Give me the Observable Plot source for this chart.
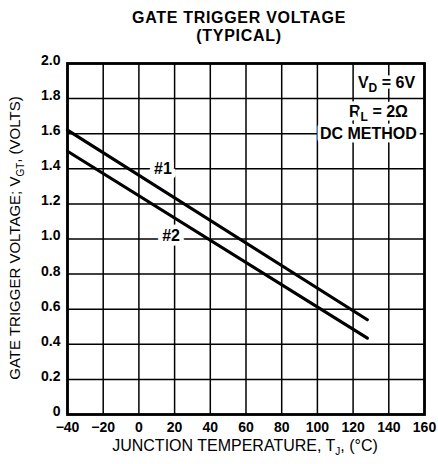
<!DOCTYPE html>
<html><head><meta charset="utf-8">
<script src="https://cdn.jsdelivr.net/npm/d3@7"></script>
<script src="https://cdn.jsdelivr.net/npm/@observablehq/plot@0.6"></script>
<style>body{margin:0;background:#fff}</style>
</head><body><div id="chart"></div>
<script>
// ---- data ----
const curve1Temp = [-40, 128];
const curve1Vgt = [1.62, 0.54];
const curve2Temp = [-40, 128];
const curve2Vgt = [1.50, 0.435];
const curveNames = ["#1", "#2"];
const curveLabelTemp = [13.5, 18];
const curveLabelVgt = [1.40, 1.015];
const xTicks = [-40, -20, 0, 20, 40, 60, 80, 100, 120, 140, 160];
const yTicks = [0, 0.2, 0.4, 0.6, 0.8, 1.0, 1.2, 1.4, 1.6, 1.8, 2.0];
const yTickLabels = ["0", "0.2", "0.4", "0.6", "0.8", "1.0", "1.2", "1.4", "1.6", "1.8", "2.0"];
const titleLines = ["GATE TRIGGER VOLTAGE", "(TYPICAL)"];
const noteTemp = [155, 151, 156];
const noteVgt = [1.892, 1.727, 1.60];

const series1 = curve1Temp.map((t, i) => ({t, v: curve1Vgt[i]}));
const series2 = curve2Temp.map((t, i) => ({t, v: curve2Vgt[i]}));
const font = "'Liberation Sans', Arial, Helvetica, sans-serif";

const plot = Plot.plot({
  width: 438, height: 464,
  marginTop: 63, marginLeft: 67, marginRight: 14, marginBottom: 50,
  style: {fontFamily: font, background: "white", color: "black", overflow: "visible"},
  x: {domain: [-40, 160]},
  y: {domain: [0, 2]},
  marks: [
    Plot.gridX(xTicks, {stroke: "black", strokeOpacity: 1, strokeWidth: 1.5}),
    Plot.gridY(yTicks, {stroke: "black", strokeOpacity: 1, strokeWidth: 1.5}),
    Plot.frame({stroke: "black", strokeWidth: 2.8}),
    Plot.line(series1, {x: "t", y: "v", stroke: "black", strokeWidth: 3.2, strokeLinecap: "round"}),
    Plot.line(series2, {x: "t", y: "v", stroke: "black", strokeWidth: 3.2, strokeLinecap: "round"}),
    Plot.text(curveNames, {x: (d, i) => curveLabelTemp[i], y: (d, i) => curveLabelVgt[i], text: d => d,
      fontSize: 16, fontWeight: "bold", fill: "black", stroke: "white", strokeWidth: 9}),
    Plot.axisX(xTicks, {tickSize: 0, tickPadding: 8, fontSize: 14, fontWeight: "bold", label: null}),
    Plot.axisY(yTicks, {tickSize: 0, tickPadding: 7, fontSize: 14, fontWeight: "bold", label: null, dy: -3,
      tickFormat: d => yTickLabels[yTicks.indexOf(d)]})
  ]
});
document.getElementById("chart").appendChild(plot);

const svg = d3.select(plot);
const xs = plot.scale("x"), ys = plot.scale("y");

// Title
titleLines.forEach((t, i) => {
  svg.append("text").attr("x", 239).attr("y", 23 + i * 18).attr("text-anchor", "middle")
    .attr("font-family", font).attr("font-size", 16).attr("letter-spacing", "0.7px")
    .attr("font-weight", "bold").attr("fill", "black").text(t);
});

function addSub(sel, main, sub, rest, subSize) {
  sel.append("tspan").text(main);
  sel.append("tspan").attr("dy", 4).attr("font-size", subSize).text(sub);
  sel.append("tspan").attr("dy", -4).text(rest);
}

// Y axis label
const yl = svg.append("text").attr("transform", "translate(20,238) rotate(-90)").attr("text-anchor", "middle")
  .attr("font-family", font).attr("font-size", 15).attr("fill", "black");
addSub(yl, "GATE TRIGGER VOLTAGE; V", "GT", ", (VOLTS)", 10);

// X axis label
const xl = svg.append("text").attr("x", 245).attr("y", 451).attr("text-anchor", "middle")
  .attr("font-family", font).attr("font-size", 16).attr("fill", "black");
addSub(xl, "JUNCTION TEMPERATURE, T", "J", ", (\u00B0C)", 10);

// Notes
const notes = [["V", "D", " = 6V"], ["R", "L", " = 2\u03A9"], ["DC METHOD", "", ""]];
notes.forEach((n, i) => {
  const tx = svg.append("text").attr("x", xs.apply(noteTemp[i])).attr("y", ys.apply(noteVgt[i]))
    .attr("dy", "0.35em").attr("text-anchor", "end").attr("font-family", font).attr("font-size", 16)
    .attr("font-weight", "bold").attr("fill", "black").attr("stroke", "white").attr("stroke-width", 7)
    .attr("paint-order", "stroke").attr("stroke-linejoin", "round");
  if (n[1]) addSub(tx, n[0], n[1], n[2], 12); else tx.text(n[0]);
});
</script>
</body></html>
